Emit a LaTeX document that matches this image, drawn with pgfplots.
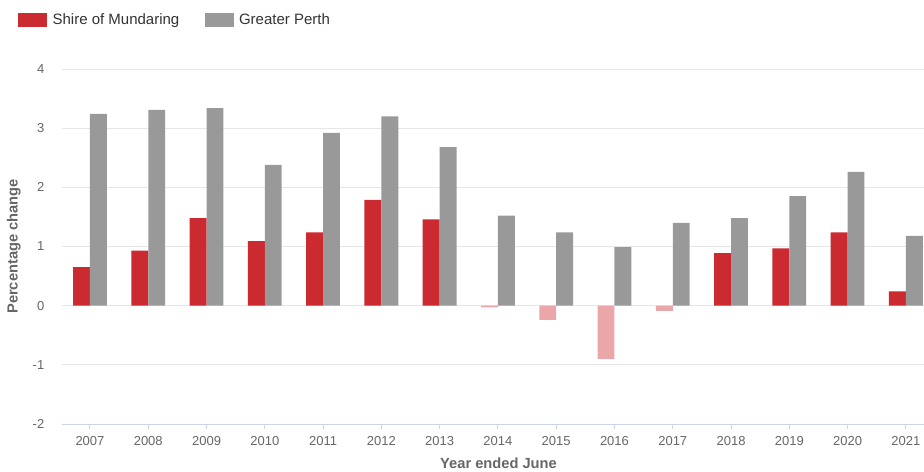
\documentclass[border=0pt]{standalone}
\usepackage{pgfplots}
\pgfplotsset{compat=1.18}
\usepackage{fontspec}
\setmainfont{Liberation Sans}
\definecolor{mred}{HTML}{CC2A31}
\definecolor{mgrey}{HTML}{999999}
\definecolor{mpink}{HTML}{EBA6A9}
\definecolor{gridc}{HTML}{E6E6E6}
\definecolor{axisc}{HTML}{CCD6EB}
\definecolor{tickc}{HTML}{666666}
\definecolor{legc}{HTML}{333333}
\begin{document}
\begin{tikzpicture}
\begin{axis}[
  at={(0,0)}, anchor=south west,
  scale only axis,
  width=654.75pt, height=266.25pt,
  xmin=-0.48, xmax=14.5,
  ymin=-2, ymax=4,
  ytick={-2,-1,0,1,2,3,4},
  xtick={0,...,14},
  xticklabels={2007,2008,2009,2010,2011,2012,2013,2014,2015,2016,2017,2018,2019,2020,2021},
  /pgf/number format/assume math mode=true,
  ymajorgrids,
  grid style={gridc, line width=0.75pt},
  axis x line*=bottom,
  axis y line*=left,
  y axis line style={draw=none},
  x axis line style={axisc, line width=0.75pt},
  ytick style={draw=none},
  xtick style={axisc, line width=0.75pt},
  tick align=outside,
  major tick length=3.75pt,
  tick label style={font=\fontsize{9.75}{11}\selectfont, text=tickc},
  xticklabel style={yshift=-2pt},
  yticklabel style={xshift=-6pt},
  xlabel={\textbf{Year ended June}},
  ylabel={\textbf{Percentage change}},
  label style={font=\fontsize{11}{13}\selectfont, text=tickc},
  xlabel style={yshift=-2.5pt},
  ylabel style={at={(axis description cs:-0.0527,0.5)}, anchor=center, yshift=1.5pt},
  legend columns=2,
  legend style={draw=none, fill=none, at={(-0.0504,1.138)}, anchor=west,
    font=\fontsize{11.25}{13}\selectfont, text=legc, inner sep=0pt,
    /tikz/every even column/.append style={column sep=17pt}},
  legend cell align=left,
  legend image code/.code={\fill[#1] (0pt,-5.25pt) rectangle (21.75pt,5.25pt);},
]
\addplot[ybar, bar width=0.29, bar shift=-0.145, fill=mred, draw=none]
  coordinates {(0,0.65) (1,0.93) (2,1.48) (3,1.09) (4,1.24) (5,1.79) (6,1.46)
  (11,0.89) (12,0.97) (13,1.24) (14,0.24)};
\addlegendentry{\hspace{2pt}Shire of Mundaring}
\addplot[ybar, bar width=0.29, bar shift=0.145, fill=mgrey, draw=none]
  coordinates {(0,3.24) (1,3.31) (2,3.34) (3,2.38) (4,2.92) (5,3.20) (6,2.68)
  (7,1.52) (8,1.24) (9,0.99) (10,1.40) (11,1.48) (12,1.85) (13,2.26) (14,1.18)};
\addlegendentry{\hspace{2pt}Greater Perth}
\addplot[ybar, bar width=0.29, bar shift=-0.145, fill=mpink, draw=none, forget plot]
  coordinates {(7,-0.03) (8,-0.24) (9,-0.90) (10,-0.09)};
\end{axis}
\pgfresetboundingbox
\path (-46.5pt,-35.25pt) rectangle (646.5pt,318pt);
\end{tikzpicture}
\end{document}
